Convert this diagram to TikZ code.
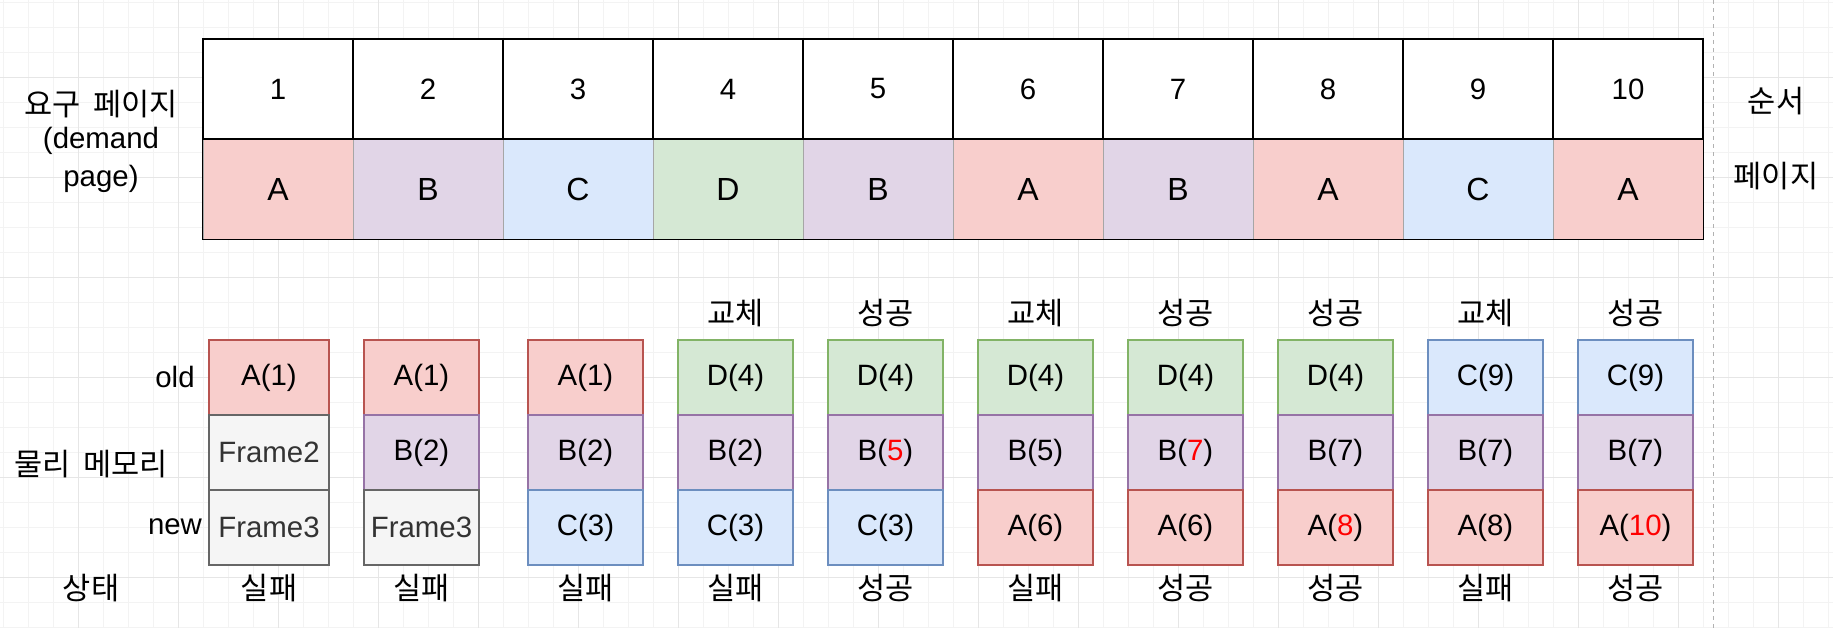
\documentclass[tikz,border=0pt]{standalone}
\usepackage{fontspec}
\setmainfont{Liberation Sans}
\newfontfamily\kr{Noto Sans CJK KR}
\definecolor{fa}{HTML}{F8CECC}\definecolor{sa}{HTML}{B85450}
\definecolor{fb}{HTML}{E1D5E7}\definecolor{sb}{HTML}{9673A6}
\definecolor{fc}{HTML}{DAE8FC}\definecolor{sc}{HTML}{6C8EBF}
\definecolor{fd}{HTML}{D5E8D4}\definecolor{sd}{HTML}{82B366}
\definecolor{ff}{HTML}{F5F5F5}\definecolor{sf}{HTML}{666666}
\definecolor{tf}{HTML}{333333}
\definecolor{gmaj}{HTML}{E6E6E6}\definecolor{gmin}{HTML}{F3F3F3}
\definecolor{redtxt}{HTML}{FF0000}
\newcommand{\rd}[1]{\textcolor{redtxt}{#1}}
\newcommand{\krfont}{\kr\fontsize{15.3}{17}\selectfont\spaceskip=6.5pt\relax}
\begin{document}
\begin{tikzpicture}[x=0.5pt,y=-0.5pt,
  toprow/.style={draw=black, line width=0.9pt, fill=white, minimum width=75pt, minimum height=50pt, inner sep=0pt, font=\fontsize{14.7}{17}\selectfont},
  botrow/.style={draw=black!35, line width=0.5pt, minimum width=75pt, minimum height=50pt, inner sep=0pt, font=\fontsize{16}{19}\selectfont},
  pa/.style={botrow, fill=fa}, pb/.style={botrow, fill=fb},
  pc/.style={botrow, fill=fc}, pd/.style={botrow, fill=fd},
  mem/.style={line width=1pt, minimum width=57.5pt, minimum height=37.5pt, inner sep=0pt, font=\fontsize{14.7}{17}\selectfont},
  ma/.style={mem, fill=fa, draw=sa}, mb/.style={mem, fill=fb, draw=sb},
  mc/.style={mem, fill=fc, draw=sc}, md/.style={mem, fill=fd, draw=sd},
  mf/.style={mem, fill=ff, draw=sf, text=tf},
  lab/.style={inner sep=0pt, font=\krfont},
  latlab/.style={inner sep=0pt, font=\fontsize{14.7}{17}\selectfont}]
\useasboundingbox (0,0) rectangle (1833,628);
\fill[white] (0,0) rectangle (1833,628);
% grid
\foreach \gx in {3,28,...,1833} \draw[gmin, line width=0.4pt] (\gx,0) -- (\gx,628);
\foreach \gy in {2,27,...,628} \draw[gmin, line width=0.4pt] (0,\gy) -- (1833,\gy);
\foreach \gx in {78,178,...,1833} \draw[gmaj, line width=0.5pt] (\gx,0) -- (\gx,628);
\foreach \gy in {77,177,...,628} \draw[gmaj, line width=0.5pt] (0,\gy) -- (1833,\gy);
\draw[black!30, line width=0.5pt, dash pattern=on 2pt off 2pt] (1713,0) -- (1713,628);
% top table
\node[pa] (b1) at (278,189) {A};
\node[pb] (b2) at (428,189) {B};
\node[pc] (b3) at (578,189) {C};
\node[pd] (b4) at (728,189) {D};
\node[pb] (b5) at (878,189) {B};
\node[pa] (b6) at (1028,189) {A};
\node[pb] (b7) at (1178,189) {B};
\node[pa] (b8) at (1328,189) {A};
\node[pc] (b9) at (1478,189) {C};
\node[pa] (b10) at (1628,189) {A};
\draw[black, line width=0.6pt] (b1.north west) rectangle (b10.south east);
\foreach \i in {1,...,10}{
  \node[toprow] (t\i) at ({278+150*(\i-1)},89) {\i};
}
% side labels
\node[latlab, align=center, font=\fontsize{14.7}{18.8}\selectfont] (dem) at (101,141) {\raisebox{-2pt}{\krfont 요구 페이지}\\(demand\\page)};
\node[lab] (ord) at (1776,101) {순서};
\node[lab] (pag) at (1776,176) {페이지};
\node[latlab] (old) at (175,377) {old};
\node[latlab] (new) at (175,527) {new};
\node[lab] (phy) at (91,464) {물리 메모리};
\node[lab] (sta) at (91,588) {상태};
% memory boxes
\node[ma, minimum width=60pt] (m1a) at (269,377.5) {A(1)};
\node[mf, minimum width=60pt] (m1b) at (269,452.5) {Frame2};
\node[mf, minimum width=60pt] (m1c) at (269,527.5) {Frame3};
\node[ma] (m2a) at (421.5,377.5) {A(1)};
\node[mb] (m2b) at (421.5,452.5) {B(2)};
\node[mf] (m2c) at (421.5,527.5) {Frame3};
\node[ma] (m3a) at (585.5,377.5) {A(1)};
\node[mb] (m3b) at (585.5,452.5) {B(2)};
\node[mc] (m3c) at (585.5,527.5) {C(3)};
\node[md] (m4a) at (735.5,377.5) {D(4)};
\node[mb] (m4b) at (735.5,452.5) {B(2)};
\node[mc] (m4c) at (735.5,527.5) {C(3)};
\node[md] (m5a) at (885.5,377.5) {D(4)};
\node[mb] (m5b) at (885.5,452.5) {B(\rd{5})};
\node[mc] (m5c) at (885.5,527.5) {C(3)};
\node[md] (m6a) at (1035.5,377.5) {D(4)};
\node[mb] (m6b) at (1035.5,452.5) {B(5)};
\node[ma] (m6c) at (1035.5,527.5) {A(6)};
\node[md] (m7a) at (1185.5,377.5) {D(4)};
\node[mb] (m7b) at (1185.5,452.5) {B(\rd{7})};
\node[ma] (m7c) at (1185.5,527.5) {A(6)};
\node[md] (m8a) at (1335.5,377.5) {D(4)};
\node[mb] (m8b) at (1335.5,452.5) {B(7)};
\node[ma] (m8c) at (1335.5,527.5) {A(\rd{8})};
\node[mc] (m9a) at (1485.5,377.5) {C(9)};
\node[mb] (m9b) at (1485.5,452.5) {B(7)};
\node[ma] (m9c) at (1485.5,527.5) {A(8)};
\node[mc] (m10a) at (1635.5,377.5) {C(9)};
\node[mb] (m10b) at (1635.5,452.5) {B(7)};
\node[ma] (m10c) at (1635.5,527.5) {A(\rd{10})};
% labels above
\node[lab] (u4) at (735.5,313.5) {교체};
\node[lab] (u5) at (885.5,313.5) {성공};
\node[lab] (u6) at (1035.5,313.5) {교체};
\node[lab] (u7) at (1185.5,313.5) {성공};
\node[lab] (u8) at (1335.5,313.5) {성공};
\node[lab] (u9) at (1485.5,313.5) {교체};
\node[lab] (u10) at (1635.5,313.5) {성공};
% labels below
\node[lab] (s1) at (269,588) {실패};
\node[lab] (s2) at (421.5,588) {실패};
\node[lab] (s3) at (585.5,588) {실패};
\node[lab] (s4) at (735.5,588) {실패};
\node[lab] (s5) at (885.5,588) {성공};
\node[lab] (s6) at (1035.5,588) {실패};
\node[lab] (s7) at (1185.5,588) {성공};
\node[lab] (s8) at (1335.5,588) {성공};
\node[lab] (s9) at (1485.5,588) {실패};
\node[lab] (s10) at (1635.5,588) {성공};
\end{tikzpicture}
\end{document}
